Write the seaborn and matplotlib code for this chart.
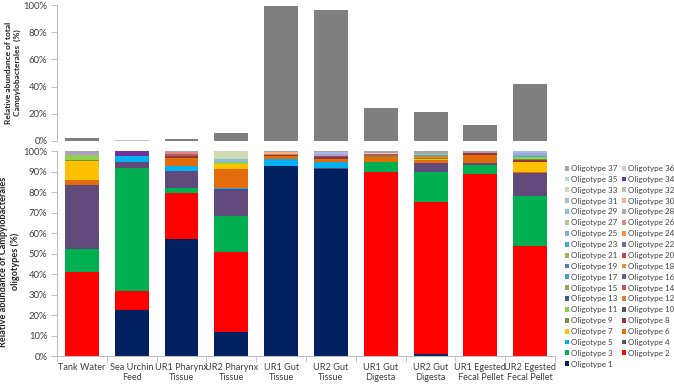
import numpy as np
import pandas as pd
import seaborn as sns
import matplotlib.pyplot as plt
from matplotlib.patches import Patch
from matplotlib.ticker import FuncFormatter, FixedLocator

# sample names (x axis)
samples = ["Tank Water", "Sea Urchin\nFeed", "UR1 Pharynx\nTissue", "UR2 Pharynx\nTissue",
           "UR1 Gut\nTissue", "UR2 Gut\nTissue", "UR1 Gut\nDigesta", "UR2 Gut\nDigesta",
           "UR1 Egested\nFecal Pellet", "UR2 Egested\nFecal Pellet"]

# top panel: total Campylobacterales (%)
campy_total = [2.2, 0.5, 1.5, 5.6, 99.3, 96.3, 24.3, 21.0, 11.5, 41.7]

# bottom panel: oligotype composition (%) per sample, {oligotype: value}
tank_water = {2: 41, 3: 11, 4: 31.5, 6: 2.5, 7: 9, 9: 0.7, 11: 2.6, 28: 1.0, 37: 0.7}
sea_urchin_feed = {1: 22.5, 2: 9, 3: 60, 4: 3, 5: 3, 34: 2.5}
ur1_pharynx = {1: 57, 2: 22.5, 3: 2.5, 4: 8.5, 5: 2, 6: 4, 8: 1, 14: 1, 26: 0.8, 37: 0.7}
ur2_pharynx = {1: 11.5, 2: 39, 3: 18, 4: 13, 5: 0.5, 6: 9, 7: 2.5, 9: 0.4, 11: 0.6,
               25: 0.7, 29: 0.8, 33: 4}
ur1_gut_tissue = {1: 92.5, 5: 3.5, 6: 1.5, 8: 0.5, 12: 0.8, 30: 0.5, 37: 0.7}
ur2_gut_tissue = {1: 91, 4: 0.5, 5: 3, 6: 1.5, 8: 1, 16: 0.8, 28: 0.9, 31: 0.6, 37: 0.7}
ur1_gut_digesta = {2: 90, 3: 4.5, 6: 2.5, 9: 0.8, 14: 0.6, 36: 0.8, 37: 0.8}
ur2_gut_digesta = {1: 1, 2: 74, 3: 15, 4: 4, 6: 1.5, 7: 0.5, 9: 0.6, 12: 0.8, 17: 0.6,
                   27: 0.5, 37: 1.5}
ur1_egested = {2: 89, 3: 4, 4: 1, 6: 4, 8: 1, 37: 1}
ur2_egested = {2: 53.5, 3: 24.5, 4: 11.5, 6: 0.5, 7: 4.5, 8: 1, 9: 0.5, 11: 1, 23: 0.5,
               25: 1.5, 31: 1}

compositions = [tank_water, sea_urchin_feed, ur1_pharynx, ur2_pharynx, ur1_gut_tissue,
                ur2_gut_tissue, ur1_gut_digesta, ur2_gut_digesta, ur1_egested, ur2_egested]

# colours for oligotype 1..37 (Excel-like palette)
oligo_colors = ["#002060", "#FF0000", "#00B050", "#604A7B", "#00B0F0", "#E46C0A", "#FFC000",
                "#953735", "#77933C", "#5C4D7D", "#92D050", "#D9823B", "#376092", "#B65A55",
                "#8EAA56", "#6E5A93", "#3DA6BE", "#E8913F", "#4A7EBB", "#BE4B48", "#98B954",
                "#7D60A0", "#46AAC5", "#F69240", "#95A9D6", "#DA8A87", "#B3CB8A", "#B1A0C7",
                "#86C5D9", "#F9B384", "#A9BCDF", "#D8B2B0", "#CFDBB1", "#7030A0", "#B5D6E4",
                "#EAC5C5", "#A6A6A6"]

n_oligo = len(oligo_colors)
wide = pd.DataFrame(compositions, index=samples).reindex(columns=range(1, n_oligo + 1)).fillna(0)

plt.rcParams["font.family"] = ["Lato", "DejaVu Sans"]
fig = plt.figure(figsize=(6.74, 3.86), dpi=100)
ax_top = fig.add_axes([0.0846, 0.635, 0.739, 0.352])
ax_bot = fig.add_axes([0.0846, 0.0777, 0.739, 0.531])

text_col = "#404040"
spine_col = "#BFBFBF"

# top panel
top_cols = ["#7F7F7F", "#BFBFBF"] + ["#7F7F7F"] * 8
sns.barplot(x=samples, y=campy_total, hue=samples, palette=top_cols, legend=False,
            width=0.68, linewidth=0, errorbar=None, saturation=1, ax=ax_top)
ax_top.set_ylim(0, 100)
ax_top.set_yticks(np.arange(0, 101, 20))
ax_top.set_xticks([])
ax_top.set_xlabel("")

# bottom panel: stacked bars
bottom = np.zeros(len(samples))
for k in range(1, n_oligo + 1):
    vals = wide[k].values
    sns.barplot(x=samples, y=vals, bottom=bottom, color=oligo_colors[k - 1], width=0.68,
                linewidth=0, errorbar=None, saturation=1, ax=ax_bot)
    bottom = bottom + vals
ax_bot.set_ylim(0, 100)
ax_bot.set_yticks(np.arange(0, 101, 10))
ax_bot.xaxis.set_minor_locator(FixedLocator(np.arange(-0.5, len(samples), 1.0)))
ax_bot.tick_params(axis="x", which="major", length=0, labelsize=6.6, colors=text_col, pad=5)
ax_bot.tick_params(axis="x", which="minor", length=4, color=spine_col)

pct = FuncFormatter(lambda v, p: f"{v:.0f}%")
for ax in (ax_top, ax_bot):
    ax.set_xlim(-0.5, len(samples) - 0.5)
    ax.yaxis.set_major_formatter(pct)
    ax.tick_params(axis="y", length=4, color=spine_col, labelsize=6.8, labelcolor=text_col, pad=3)
    for s in ("top", "right"):
        ax.spines[s].set_visible(False)
    ax.spines["left"].set_color(spine_col)
    ax.spines["bottom"].set_color(spine_col)
ax_top.spines["bottom"].set_visible(False)

ax_top.set_ylabel("Relative abundance of total\nCampylobacterales  (%)", fontsize=6.0,
                  fontweight="bold", color="#262626", linespacing=1.4)
ax_top.yaxis.set_label_coords(-0.072, 0.5)
ax_bot.set_ylabel("Relative abundance of Campylobacterales\noligotypes (%)", fontsize=6.6,
                  fontweight="bold", color="#262626", linespacing=1.35)
ax_bot.yaxis.set_label_coords(-0.074, 0.46)

# legend: rows read 37 36 / 35 34 / ... / 1
left_col = list(range(n_oligo, 0, -2))
right_col = list(range(n_oligo - 1, 0, -2))
handles = [Patch(facecolor=oligo_colors[k - 1], edgecolor="none", label=f"Oligotype {k}")
           for k in left_col + right_col]
fig.legend(handles=handles, ncol=2, loc="upper left", bbox_to_anchor=(0.832, 0.583),
           frameon=False, fontsize=5.8, handlelength=0.55, handleheight=0.55,
           handletextpad=0.25, columnspacing=0.5, labelspacing=0.48, borderpad=0,
           labelcolor=text_col)

fig.savefig("out.png", dpi=100)
